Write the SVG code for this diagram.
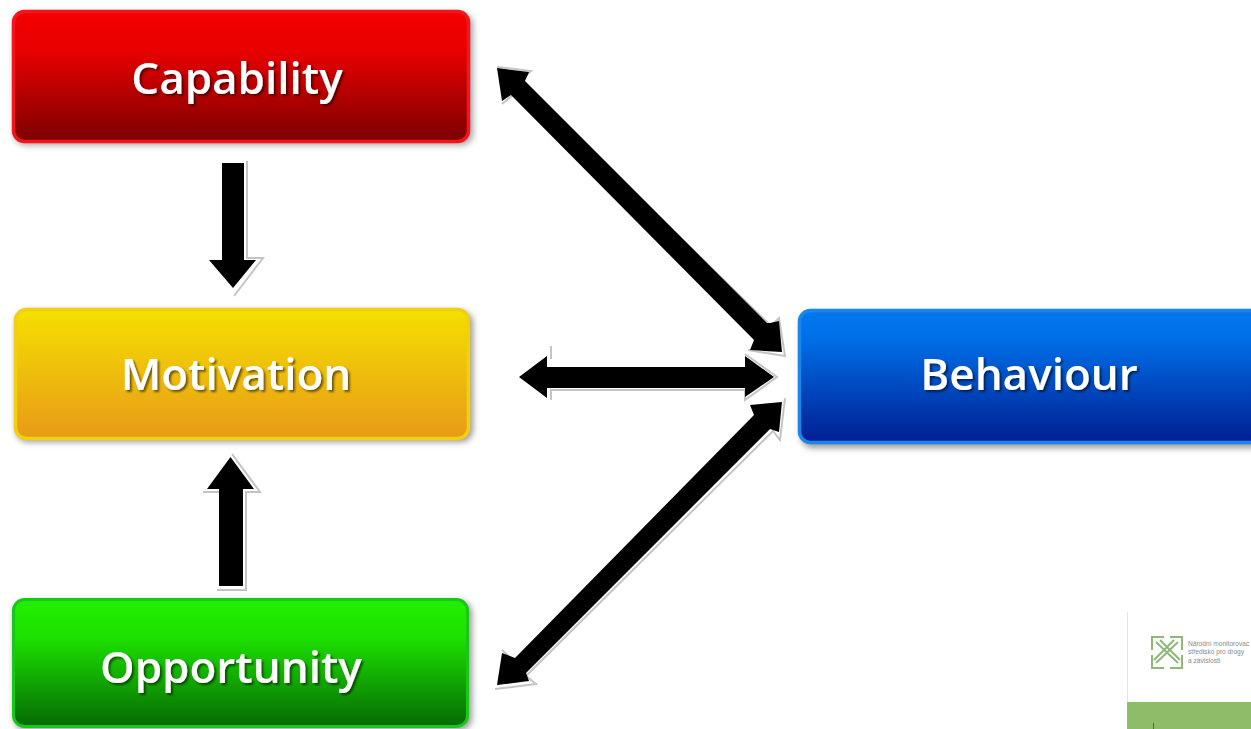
<svg xmlns="http://www.w3.org/2000/svg" width="1251" height="729" viewBox="0 0 1251 729">
<style>
.lab{font-family:"Open Sans","Liberation Sans",sans-serif;font-weight:600;font-size:44px;fill:#fff;text-anchor:middle;filter:url(#ts)}
.arrow{fill:#000}
.out{fill:none;stroke:#c4c4c4;stroke-width:2;stroke-linejoin:miter}
.logo{font-family:"Liberation Sans",sans-serif;font-size:6.6px;fill:#8a8a8a}
.lm{fill:none;stroke:#8fb878;stroke-width:2}
</style>
<defs>
<linearGradient id="r" x1="0" y1="0" x2="0" y2="1"><stop offset="0" stop-color="#f40000"/><stop offset=".3" stop-color="#e80000"/><stop offset="1" stop-color="#7c0000"/></linearGradient>
<linearGradient id="y" x1="0" y1="0" x2="0" y2="1"><stop offset="0" stop-color="#f4e000"/><stop offset="1" stop-color="#e89a18"/></linearGradient>
<linearGradient id="b" x1="0" y1="0" x2="0" y2="1"><stop offset="0" stop-color="#0078ee"/><stop offset=".2" stop-color="#0070e8"/><stop offset="1" stop-color="#001e92"/></linearGradient>
<linearGradient id="g" x1="0" y1="0" x2="0" y2="1"><stop offset="0" stop-color="#22f000"/><stop offset=".3" stop-color="#1de000"/><stop offset="1" stop-color="#056a05"/></linearGradient>
<filter id="sh" x="-5%" y="-10%" width="110%" height="125%"><feGaussianBlur stdDeviation="3"/></filter>
<filter id="ts" x="-5%" y="-10%" width="110%" height="125%"><feDropShadow dx="2" dy="2" stdDeviation="1.2" flood-color="#000" flood-opacity=".55"/></filter>
<filter id="soft" x="-5%" y="-5%" width="110%" height="110%"><feGaussianBlur stdDeviation=".5"/></filter>
</defs>
<rect width="1251" height="729" fill="#fff"/>

<g id="capability">
<rect x="14" y="13" width="459" height="132" rx="12" fill="#555" opacity=".55" filter="url(#sh)"/>
<rect x="13.500" y="11.500" width="455" height="130" rx="11" fill="url(#r)" stroke="#f4141c" stroke-width="3.500"/>
<text class="lab" x="237" y="94">Capability</text>
</g>
<g id="motivation">
<rect x="16" y="311" width="457" height="131" rx="12" fill="#555" opacity=".6" filter="url(#sh)"/>
<rect x="15.500" y="309.500" width="453" height="129" rx="11" fill="url(#y)" stroke="#f0d010" stroke-width="3.500"/>
<text class="lab" x="236" y="390">Motivation</text>
</g>
<g id="behaviour">
<rect x="801" y="313" width="470" height="135" rx="12" fill="#555" opacity=".6" filter="url(#sh)"/>
<rect x="799.500" y="310.500" width="470" height="132" rx="11" fill="url(#b)" stroke="#1a86ec" stroke-width="3.500"/>
<text class="lab" x="1029" y="390">Behaviour</text>
</g>
<g id="opportunity">
<rect x="14" y="601" width="458" height="129" rx="12" fill="#555" opacity=".6" filter="url(#sh)"/>
<rect x="13.500" y="599.500" width="454" height="127" rx="11" fill="url(#g)" stroke="#18c818" stroke-width="3"/>
<text class="lab" x="231" y="683">Opportunity</text>
</g>

<g id="connectors" filter="url(#soft)">
<path class="out" d="M247 161V258H263L234 296"/>
<polygon class="arrow" points="222,163 244,163 244,260 256,260 233,288 209,260 222,260"/>

<path class="out" d="M203 492H219M232 454L260 492H246V590H217"/>
<polygon class="arrow" points="219,586 243,586 243,489 254,489 230.500,457 207,489 219,489"/>

<path class="out" d="M497 67L531 71L520 82L771 326L779 318L785 356L748 350M502 104L513 95"/>
<polygon class="arrow" points="497,68 529,72 525,81 767,323 770,323 779,321 782,352 750,350 754,340 511,95 502,101"/>

<path class="out" d="M551 346V358H550M551 400V390H745V400L777 377L745 354"/>
<polygon class="arrow" points="519,377 547,356 547,367 745,367 745,356 774,377 745,397 745,388 547,388 547,398"/>

<path class="out" d="M495 689L536 684L526 676L773 431L780 440L785 398M502 650L513 660"/>
<polygon class="arrow" points="497,685 529,681 526,673 770,429 779,432 782,402 750,405 754,415 515,658 502,653"/>
</g>

<g id="logo">
<rect x="1127" y="612" width="124" height="90" fill="#fff"/>
<path d="M1127.500 612V702" stroke="#e6e6e6" fill="none"/>
<rect x="1127" y="702" width="124" height="27" fill="#8fbc68"/>
<path class="lm" d="M1164 637H1152V650M1170 637H1182V650M1164 668H1152V655M1170 668H1182V655M1156 642L1178 663M1178 642L1156 663M1160 640L1180 660M1174 640L1154 660"/>
<text class="logo" x="1188" y="646">Národní monitorovac</text>
<text class="logo" x="1188" y="654">středisko pro drogy</text>
<text class="logo" x="1188" y="663">a závislosti</text>
<path d="M1153.500 723V729" stroke="#4a6a40" fill="none"/>
</g>
</svg>
